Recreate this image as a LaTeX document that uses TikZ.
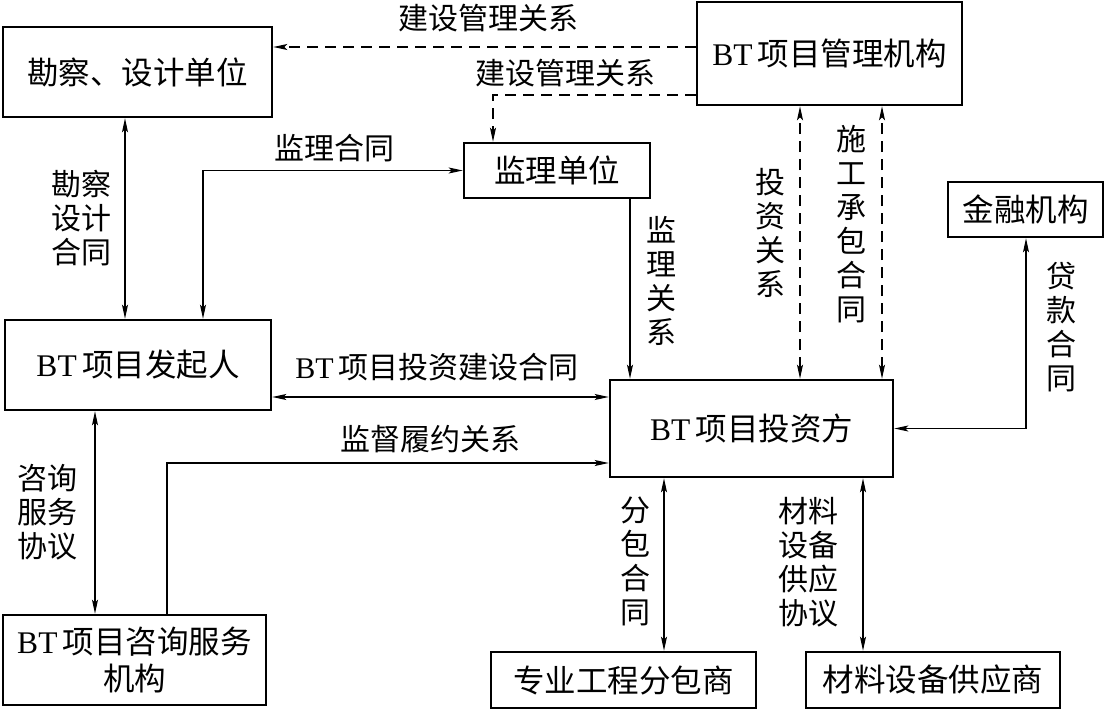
\documentclass[tikz,border=0pt]{standalone}
\usepackage{fontspec}
\setmainfont{Noto Sans CJK SC}
\newfontfamily\lat{Liberation Serif}
\newcommand\BT{{\lat BT}\,}
\usetikzlibrary{arrows.meta,calc}
\begin{document}
\begin{tikzpicture}[x=1pt,y=-1pt,
  box/.style={draw,line width=2.6pt,inner sep=0pt,align=center,font=\fontsize{31.5}{37}\selectfont},
  lab/.style={inner sep=0pt,align=center,font=\fontsize{30}{34}\selectfont},
  conn/.style={line width=1.1pt,>={Stealth[length=14pt,width=6pt,inset=3pt]}},
  dsh/.style={conn,dash pattern=on 11pt off 7pt}]
\useasboundingbox (0,0) rectangle (1109,709);
% boxes
\node[box,minimum width=269,minimum height=90] (ks) at (137.5,72) {勘察、设计单位};
\node[box,minimum width=265,minimum height=103] (gl) at (829.5,53.5) {\BT 项目管理机构};
\node[box,minimum width=186,minimum height=55] (jl) at (557,170.5) {监理单位};
\node[box,minimum width=155,minimum height=55] (jr) at (1025.5,209.5) {金融机构};
\node[box,minimum width=266,minimum height=90] (fq) at (138,365) {\BT 项目发起人};
\node[box,minimum width=283,minimum height=97] (tz) at (751.5,428.5) {\BT 项目投资方};
\node[box,minimum width=263,minimum height=90] (zx) at (134.5,660) {\BT 项目咨询服务\\机构};
\node[box,minimum width=265,minimum height=56] (fb) at (623.5,680) {专业工程分包商};
\node[box,minimum width=254,minimum height=56] (gy) at (933,680) {材料设备供应商};
% helper coordinates
\coordinate (r1) at (0,47);
\coordinate (r2) at (0,95);
\coordinate (r4) at (0,397);
\coordinate (r5) at (0,463);
\coordinate (c1) at (125,0);
\coordinate (c2) at (493,0);
\coordinate (c3) at (203,0);
\coordinate (c4) at (630,0);
\coordinate (c5) at (800,0);
\coordinate (c6) at (882,0);
\coordinate (c7) at (1026,0);
\coordinate (c8) at (167,0);
\coordinate (c9) at (95,0);
\coordinate (c10) at (664,0);
\coordinate (c11) at (863,0);
% connectors
\draw[dsh,->] (gl.west |- r1) -- (ks.east |- r1);
\draw[dsh,->] (gl.west |- r2) -| (jl.north -| c2);
\draw[conn,<->] (ks.south -| c1) -- (fq.north -| c1);
\draw[conn,<->] (fq.north -| c3) |- (jl.west);
\draw[conn,->] (jl.south -| c4) -- (tz.north -| c4);
\draw[dsh,<->] (tz.north -| c5) -- (gl.south -| c5);
\draw[dsh,<->] (tz.north -| c6) -- (gl.south -| c6);
\draw[conn,<->] (jr.south -| c7) |- (tz.east);
\draw[conn,<->] (fq.east |- r4) -- (tz.west |- r4);
\draw[conn,->] (zx.north -| c8) |- (tz.west |- r5);
\draw[conn,<->] (fq.south -| c9) -- (zx.north -| c9);
\draw[conn,<->] (tz.south -| c10) -- (fb.north -| c10);
\draw[conn,<->] (tz.south -| c11) -- (gy.north -| c11);
% labels
\node[lab] (l1) at (488,18) {建设管理关系};
\node[lab] (l2) at (565,73) {建设管理关系};
\node[lab] (l3) at (334,148) {监理合同};
\node[lab] (l4) at (81,218) {勘察\\设计\\合同};
\node[lab] (l5) at (661,281) {监\\理\\关\\系};
\node[lab] (l6) at (770,233) {投\\资\\关\\系};
\node[lab] (l7) at (851,224) {施\\工\\承\\包\\合\\同};
\node[lab] (l8) at (1061,327) {贷\\款\\合\\同};
\node[lab] (l9) at (437,367) {\BT 项目投资建设合同};
\node[lab] (l10) at (430,439) {监督履约关系};
\node[lab] (l11) at (47,512) {咨询\\服务\\协议};
\node[lab] (l12) at (635,561) {分\\包\\合\\同};
\node[lab] (l13) at (808,562) {材料\\设备\\供应\\协议};
\end{tikzpicture}
\end{document}
